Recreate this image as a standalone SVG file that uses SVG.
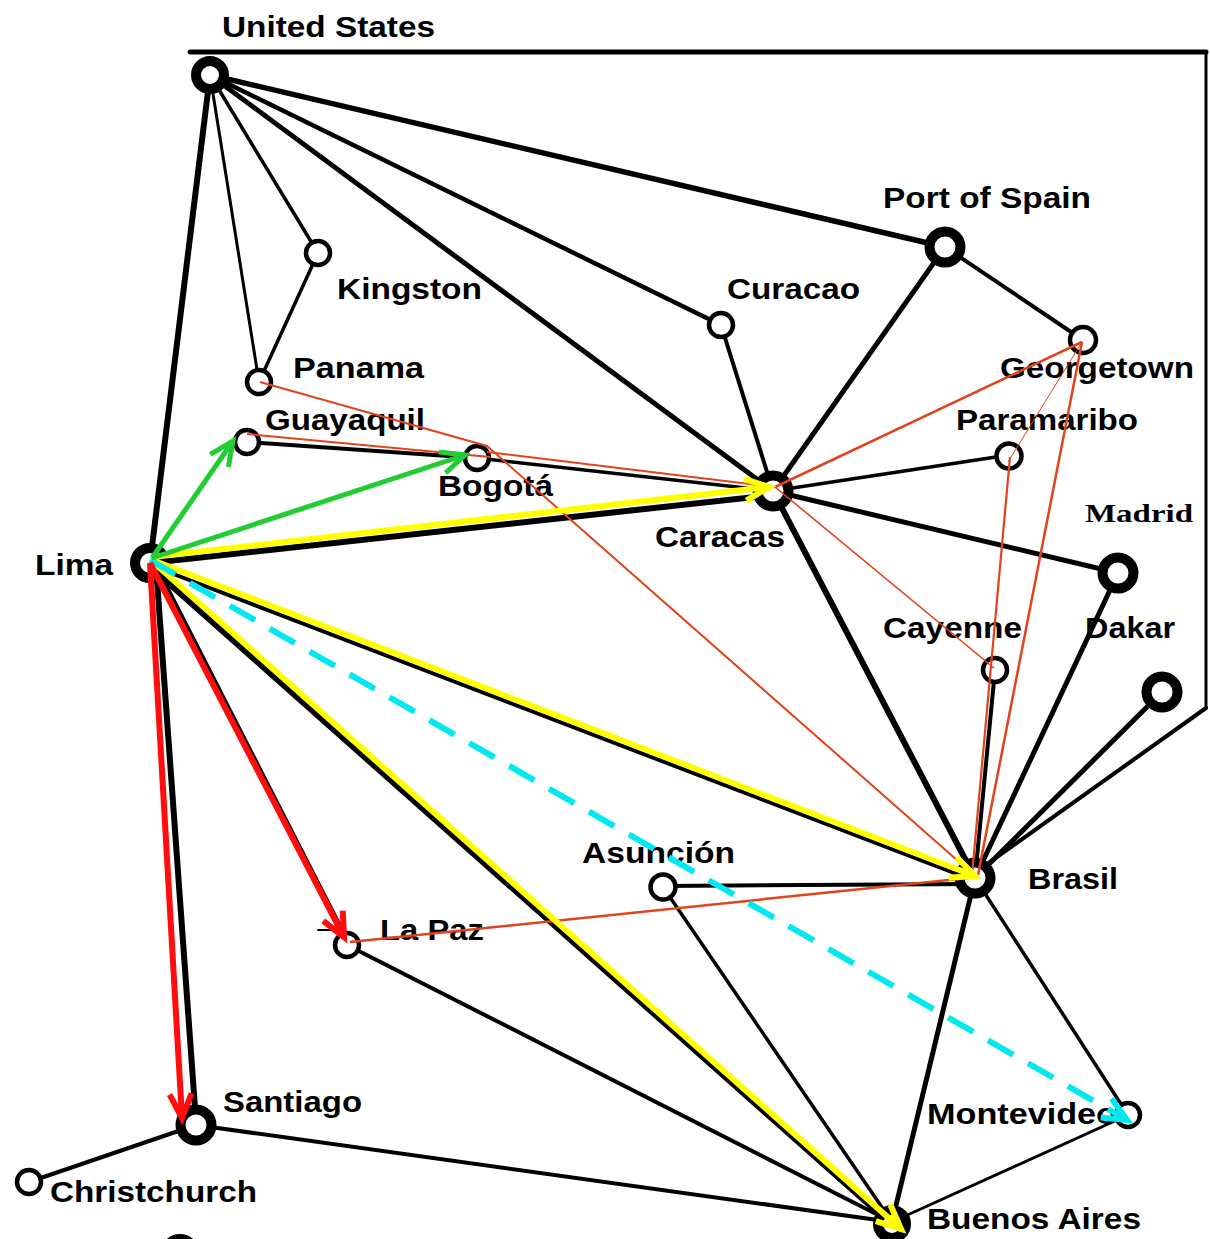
<svg xmlns="http://www.w3.org/2000/svg" width="1210" height="1239" viewBox="0 0 1210 1239">
<style>
.lbl{font-family:"Liberation Sans",Arial,sans-serif;font-weight:bold;font-size:29px;fill:#000}
.serif{font-family:"Liberation Serif","Times New Roman",serif;font-weight:bold;font-size:26px;fill:#000}
.big{fill:#fff;stroke:#000;stroke-width:10}
.sm{fill:#fff;stroke:#000;stroke-width:4.5}
.e{stroke:#000;fill:none;stroke-linecap:round}
.o{stroke:#e0441c;fill:none}
.g{stroke:#22cc33;stroke-width:5;fill:none;marker-end:url(#mG)}
.y{stroke:#ffff00;stroke-width:6;fill:none;marker-end:url(#mY)}
.r{stroke:#ff0d0d;stroke-width:6;fill:none;marker-end:url(#mR)}
.c{stroke:#00e8f0;stroke-width:6;fill:none;stroke-dasharray:29 17;marker-end:url(#mC)}
</style>
<defs>
<marker id="mG" markerUnits="userSpaceOnUse" markerWidth="60" markerHeight="60" viewBox="-30 -30 60 60" refX="0" refY="0" orient="auto" overflow="visible"><path d="M-24,-11 L0,0 L-24,11" fill="none" stroke="#22cc33" stroke-width="5"/></marker>
<marker id="mY" markerUnits="userSpaceOnUse" markerWidth="60" markerHeight="60" viewBox="-30 -30 60 60" refX="0" refY="0" orient="auto" overflow="visible"><path d="M-24,-11 L0,0 L-24,11" fill="none" stroke="#ffff00" stroke-width="6"/></marker>
<marker id="mR" markerUnits="userSpaceOnUse" markerWidth="60" markerHeight="60" viewBox="-30 -30 60 60" refX="0" refY="0" orient="auto" overflow="visible"><path d="M-24,-11 L0,0 L-24,11" fill="none" stroke="#ff0d0d" stroke-width="6"/></marker>
<marker id="mC" markerUnits="userSpaceOnUse" markerWidth="60" markerHeight="60" viewBox="-30 -30 60 60" refX="0" refY="0" orient="auto" overflow="visible"><path d="M-24,-11 L0,0 L-24,11" fill="none" stroke="#00e8f0" stroke-width="6"/></marker>
</defs>
<rect width="1210" height="1239" fill="#fff"/>

<g id="connectors">
<g id="black-edges">
<path class="e" stroke-width="5" d="M190,52 H1206"/>
<path class="e" stroke-width="3" d="M1206,52 V708"/>
<path class="e" stroke-width="4" d="M1206,708 L976,872"/>
<path class="e" stroke-width="6" d="M210,75 L150,563"/>
<path class="e" stroke-width="3" d="M210,75 L259,382"/>
<path class="e" stroke-width="3.5" d="M210,75 L318,253"/>
<path class="e" stroke-width="5" d="M210,75 L773,491"/>
<path class="e" stroke-width="4.5" d="M210,75 L721,325"/>
<path class="e" stroke-width="5.5" d="M210,75 L945,247"/>
<path class="e" stroke-width="3.5" d="M318,253 L259,382"/>
<path class="e" stroke-width="4" d="M247,442 L477,458"/>
<path class="e" stroke-width="3.5" d="M477,458 L773,491"/>
<path class="e" stroke-width="6" d="M150,563 L773,495"/>
<path class="e" stroke-width="4" d="M721,325 L773,491"/>
<path class="e" stroke-width="5" d="M945,247 L773,491"/>
<path class="e" stroke-width="4" d="M945,247 L1083,340"/>
<path class="e" stroke-width="3.5" d="M773,491 L1009,455"/>
<path class="e" stroke-width="5" d="M773,491 L1118,573"/>
<path class="e" stroke-width="6" d="M773,491 L975,878"/>
<path class="e" stroke-width="4" d="M995,670 L975,878"/>
<path class="e" stroke-width="5" d="M1118,573 L975,878"/>
<path class="e" stroke-width="5" d="M1162,692 L975,878"/>
<path class="e" stroke-width="4" d="M663,886 L975,884"/>
<path class="e" stroke-width="5" d="M975,878 L892,1222"/>
<path class="e" stroke-width="3.5" d="M975,878 L1128,1115"/>
<path class="e" stroke-width="3" d="M1128,1115 L892,1222"/>
<path class="e" stroke-width="3.5" d="M663,887 L892,1222"/>
<path class="e" stroke-width="4" d="M347,945 L892,1222"/>
<path class="e" stroke-width="4" d="M196,1125 L892,1222"/>
<path class="e" stroke-width="4" d="M196,1125 L29,1182"/>
<path class="e" stroke-width="4" d="M150,565 L975,881"/>
<path class="e" stroke-width="6" d="M148,565 L892,1225"/>
<path class="e" stroke-width="4.5" d="M156,566 L349,944"/>
<path class="e" stroke-width="6" d="M156,566 L196,1122"/>
<path class="e" stroke-width="2" d="M318,930 L333,930"/>
</g>
</g>

<g id="node-us"><circle class="big" cx="210" cy="75" r="14"/><text class="lbl" x="222" y="37" textLength="213" lengthAdjust="spacingAndGlyphs">United States</text></g>
<g id="node-kingston"><circle class="sm" cx="318" cy="253" r="12"/><text class="lbl" x="337" y="299" textLength="145" lengthAdjust="spacingAndGlyphs">Kingston</text></g>
<g id="node-panama"><circle class="sm" cx="259" cy="382" r="12"/><text class="lbl" x="293" y="378" textLength="131" lengthAdjust="spacingAndGlyphs">Panama</text></g>
<g id="node-guayaquil"><circle class="sm" cx="247" cy="442" r="12"/><text class="lbl" x="265" y="430" textLength="160" lengthAdjust="spacingAndGlyphs">Guayaquil</text></g>
<g id="node-bogota"><circle class="sm" cx="477" cy="458" r="12"/><text class="lbl" x="438" y="496" textLength="115" lengthAdjust="spacingAndGlyphs">Bogotá</text></g>
<g id="node-curacao"><circle class="sm" cx="721" cy="325" r="12"/><text class="lbl" x="727" y="299" textLength="133" lengthAdjust="spacingAndGlyphs">Curacao</text></g>
<g id="node-portofspain"><circle class="big" cx="945" cy="247" r="15.5"/><text class="lbl" x="883" y="208" textLength="208" lengthAdjust="spacingAndGlyphs">Port of Spain</text></g>
<g id="node-georgetown"><circle class="sm" cx="1083" cy="340" r="13"/><text class="lbl" x="1000" y="378" textLength="194" lengthAdjust="spacingAndGlyphs">Georgetown</text></g>
<g id="node-paramaribo"><circle class="sm" cx="1009" cy="456" r="12.5"/><text class="lbl" x="956" y="430" textLength="182" lengthAdjust="spacingAndGlyphs">Paramaribo</text></g>
<g id="node-caracas"><circle class="big" cx="773" cy="491" r="15.5"/><text class="lbl" x="655" y="547" textLength="130" lengthAdjust="spacingAndGlyphs">Caracas</text></g>
<g id="node-madrid"><circle class="big" cx="1118" cy="573" r="15.5"/><text class="serif" x="1085" y="522" textLength="108" lengthAdjust="spacingAndGlyphs">Madrid</text></g>
<g id="node-dakar"><circle class="big" cx="1162" cy="692" r="15.5"/><text class="lbl" x="1085" y="638" textLength="90" lengthAdjust="spacingAndGlyphs">Dakar</text></g>
<g id="node-cayenne"><circle class="sm" cx="995" cy="670" r="12"/><text class="lbl" x="883" y="638" textLength="139" lengthAdjust="spacingAndGlyphs">Cayenne</text></g>
<g id="node-lima"><circle class="big" cx="150" cy="563" r="15"/><text class="lbl" x="35" y="575" textLength="78" lengthAdjust="spacingAndGlyphs">Lima</text></g>
<g id="node-brasil"><circle class="big" cx="975" cy="878" r="15.5"/><text class="lbl" x="1028" y="889" textLength="90" lengthAdjust="spacingAndGlyphs">Brasil</text></g>
<g id="node-asuncion"><circle class="sm" cx="663" cy="887" r="12.5"/><text class="lbl" x="582" y="863" textLength="153" lengthAdjust="spacingAndGlyphs">Asunción</text></g>
<g id="node-lapaz"><circle class="sm" cx="347" cy="945" r="12"/><text class="lbl" x="380" y="940" textLength="104" lengthAdjust="spacingAndGlyphs">La Paz</text></g>
<g id="node-santiago"><circle class="big" cx="196" cy="1125" r="15.5"/><text class="lbl" x="223" y="1112" textLength="139" lengthAdjust="spacingAndGlyphs">Santiago</text></g>
<g id="node-christchurch"><circle class="sm" cx="29" cy="1182" r="12"/><text class="lbl" x="50" y="1202" textLength="207" lengthAdjust="spacingAndGlyphs">Christchurch</text></g>
<g id="node-montevideo"><circle class="sm" cx="1128" cy="1115" r="12"/><text class="lbl" x="927" y="1124" textLength="190" lengthAdjust="spacingAndGlyphs">Montevideo</text></g>
<g id="node-buenosaires"><circle class="big" cx="892" cy="1224" r="14"/><text class="lbl" x="927" y="1229" textLength="214" lengthAdjust="spacingAndGlyphs">Buenos Aires</text></g>
<g id="node-partial"><circle class="big" cx="180" cy="1254" r="15"/></g>

<g id="connectors-overlay">
<g id="orange-routes">
<path class="o" stroke-width="2" d="M260,382 L487,446 L975,876"/>
<path class="o" stroke-width="2" d="M247,434 L490,457"/>
<path class="o" stroke-width="2" d="M487,452 L775,487"/>
<path class="o" stroke-width="2.5" d="M775,487 L1082,342"/>
<path class="o" stroke-width="1.6" d="M775,487 L994,668"/>
<path class="o" stroke-width="2.5" d="M1082,342 L978,875"/>
<path class="o" stroke-width="1" stroke="#c05050" d="M1082,342 L1008,462"/>
<path class="o" stroke-width="2.2" d="M1010,457 L972,875"/>
<path class="o" stroke-width="2.5" d="M350,942 L978,877"/>
</g>
<g id="route-arrows">
<path class="y" d="M152,557 L769,487"/>
<path class="y" d="M152,560 L975,876"/>
<path class="y" d="M152,561 L901,1229"/>
<path class="c" d="M150,560 L1127,1120"/>
<path class="g" d="M152,558 L233,441"/>
<path class="g" d="M152,558 L465,455"/>
<path class="r" d="M150,563 L344,937"/>
<path class="r" d="M150,563 L182,1118"/>
</g>
</g>
</svg>
